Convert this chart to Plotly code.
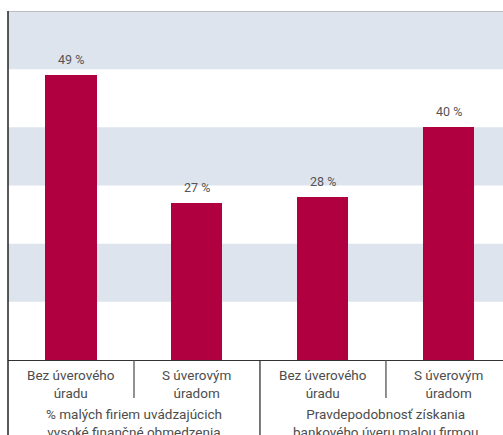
import plotly.graph_objects as go

categories = ["Bez úverového<br>úradu", "S úverovým<br>úradom",
              "Bez úverového<br>úradu", "S úverovým<br>úradom"]
values = [49, 27, 28, 40]
group_labels = ["% malých firiem uvádzajúcich<br>vysoké finančné obmedzenia",
                "Pravdepodobnosť získania<br>bankového úveru malou firmou"]
group_centers = [0.5, 2.5]
bands = [(10, 20), (30, 40), (50, 60)]
y_max = 60

BAR = "#b0003f"
BAND = "#dee4ee"
TXT = "#4d4d4d"
FONT = "Roboto"

x = list(range(len(values)))

fig = go.Figure(go.Bar(x=x, y=values, width=0.405, marker_color=BAR,
                       marker_line_width=0, hoverinfo="skip"))

shapes = []
for y0, y1 in bands:
    shapes.append(dict(type="rect", xref="paper", yref="y", x0=0, x1=1, y0=y0, y1=y1,
                       fillcolor=BAND, line_width=0, layer="below"))
# top border
shapes.append(dict(type="line", xref="paper", yref="y", x0=0, x1=1, y0=y_max, y1=y_max,
                   line=dict(color="#9a9a9a", width=1.2)))
# left border extending below
shapes.append(dict(type="line", xref="paper", yref="paper", x0=0, x1=0, y0=-0.215, y1=1,
                   line=dict(color="#222222", width=1.5)))
# dividers between categories
for i in range(len(values) - 1):
    b = i + 0.5
    long = (i == 1)
    shapes.append(dict(type="line", xref="x", yref="paper", x0=b, x1=b, y0=0,
                       y1=-0.215 if long else -0.109,
                       line=dict(color="#555555" if not long else "#333333", width=1.3)))

annotations = []
for xi, v in zip(x, values):
    annotations.append(dict(x=xi, y=v, xref="x", yref="y", text=f"{v} %", showarrow=False,
                            yanchor="bottom", yshift=6,
                            font=dict(family=FONT, size=12.5, color="#555555")))
for xi, c in zip(x, categories):
    annotations.append(dict(x=xi, y=0, xref="x", yref="paper", text=c, showarrow=False,
                            yanchor="top", yshift=-5,
                            font=dict(family=FONT, size=13.5, color=TXT)))
for gc, g in zip(group_centers, group_labels):
    annotations.append(dict(x=gc, y=0, xref="x", yref="paper", text=g, showarrow=False,
                            yanchor="top", yshift=-44,
                            font=dict(family=FONT, size=13.5, color=TXT)))

fig.update_layout(
    width=503, height=435,
    margin=dict(l=8, r=0, t=11, b=75),
    paper_bgcolor="white", plot_bgcolor="white",
    showlegend=False,
    bargap=0,
    xaxis=dict(range=[-0.5, 3.429], showticklabels=False, showgrid=False, zeroline=False,
               showline=True, linecolor="#333333", linewidth=1.2, ticks=""),
    yaxis=dict(range=[0, y_max], showticklabels=False, showgrid=False, zeroline=False,
               showline=False, ticks=""),
    shapes=shapes,
    annotations=annotations,
)

fig.write_html("out.html")
